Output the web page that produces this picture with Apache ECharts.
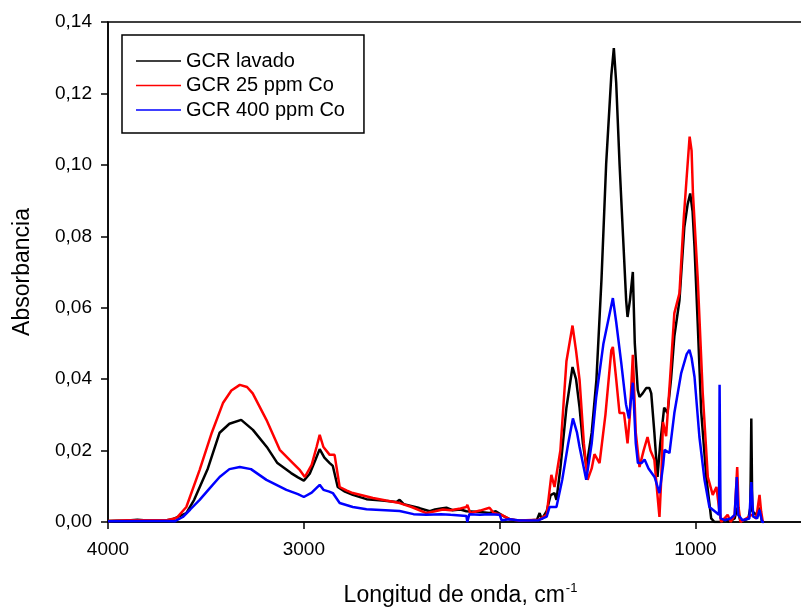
<!DOCTYPE html>
<html>
<head>
<meta charset="utf-8">
<script src="https://cdn.jsdelivr.net/npm/echarts@6/dist/echarts.min.js"></script>
<style>
  html, body { margin: 0; padding: 0; background: #fff; }
  #chart { width: 801px; height: 607px; }
</style>
</head>
<body>
<div id="chart"></div>
<script>
// FTIR spectra: [wavenumber (cm-1), absorbance]
const lavado = [
  [4000,0.0003],[3900,0.0004],[3850,0.0006],[3800,0.0004],[3700,0.0005],[3669,0.0008],[3640,0.0015],
  [3600,0.0025],[3560,0.0062],[3490,0.015],[3430,0.025],[3380,0.0275],[3320,0.0286],[3260,0.0258],
  [3185,0.0207],[3135,0.0165],[3065,0.0137],[3030,0.0125],[3000,0.0116],[2970,0.0135],[2940,0.0175],
  [2919,0.0204],[2895,0.018],[2868,0.0165],[2852,0.0157],[2827,0.0098],[2790,0.0085],[2750,0.0076],
  [2680,0.0064],[2600,0.006],[2527,0.0056],[2511,0.0062],[2490,0.005],[2410,0.0039],[2357,0.003],
  [2330,0.0035],[2300,0.0038],[2272,0.004],[2240,0.0033],[2200,0.0035],[2170,0.003],[2100,0.0028],
  [2052,0.0025],[2020,0.003],[1985,0.0018],[1950,0.0008],[1914,0.0004],[1850,0.0004],[1810,0.0006],
  [1796,0.0025],[1785,0.0008],[1760,0.003],[1740,0.0075],[1720,0.0081],[1710,0.0062],[1690,0.015],
  [1659,0.032],[1628,0.0434],[1610,0.04],[1592,0.032],[1575,0.022],[1557,0.0154],[1530,0.025],
  [1506,0.0398],[1480,0.068],[1456,0.1005],[1430,0.125],[1417,0.1327],[1405,0.123],[1388,0.1005],
  [1370,0.08],[1354,0.062],[1347,0.0574],[1335,0.062],[1320,0.070],[1310,0.05],[1295,0.037],
  [1286,0.035],[1270,0.036],[1252,0.0375],[1235,0.0375],[1226,0.036],[1210,0.025],[1194,0.0126],
  [1180,0.022],[1160,0.032],[1143,0.0305],[1125,0.04],[1108,0.052],[1082,0.062],[1057,0.0826],
  [1040,0.089],[1027,0.092],[1015,0.087],[1005,0.077],[988,0.0546],[971,0.031],[945,0.0126],
  [920,0.001],[903,0],[870,0],[850,0.001],[830,0],[800,0.001],[787,0.004],[770,0],[730,0.001],
  [720,0.004],[715,0.029],[710,0.003],[690,0.002],[673,0.004],[660,0],[650,0]
];

const co25 = [
  [4000,0.0003],[3900,0.0005],[3800,0.0005],[3700,0.0005],[3650,0.0011],[3600,0.0042],[3532,0.0146],
  [3470,0.025],[3413,0.0333],[3370,0.0368],[3327,0.0384],[3290,0.0378],[3261,0.036],[3191,0.0286],
  [3123,0.0202],[3056,0.0165],[3020,0.0145],[2995,0.0126],[2960,0.016],[2935,0.021],[2919,0.0244],
  [2900,0.021],[2868,0.0188],[2843,0.0188],[2817,0.0098],[2780,0.0088],[2750,0.0081],[2647,0.0067],
  [2580,0.006],[2511,0.0053],[2450,0.0042],[2374,0.0025],[2330,0.003],[2290,0.0035],[2250,0.0033],
  [2200,0.0038],[2170,0.0042],[2165,0.0048],[2150,0.0025],[2100,0.0032],[2052,0.004],[2030,0.0025],
  [1990,0.002],[1950,0.0008],[1900,0.0004],[1800,0.0006],[1760,0.002],[1745,0.009],[1736,0.0132],
  [1720,0.0098],[1690,0.02],[1659,0.045],[1628,0.055],[1610,0.048],[1592,0.0398],[1570,0.022],
  [1551,0.0118],[1530,0.015],[1516,0.019],[1490,0.0165],[1460,0.03],[1430,0.048],[1422,0.049],
  [1405,0.04],[1388,0.0305],[1365,0.0305],[1347,0.022],[1335,0.03],[1320,0.0468],[1305,0.025],
  [1286,0.0154],[1265,0.02],[1245,0.0238],[1230,0.02],[1210,0.0174],[1195,0.008],[1184,0.0014],
  [1175,0.012],[1166,0.028],[1150,0.024],[1130,0.04],[1108,0.0585],[1082,0.064],[1060,0.085],
  [1045,0.0966],[1030,0.1079],[1020,0.104],[1013,0.092],[989,0.0686],[963,0.036],[937,0.0126],
  [912,0.0076],[893,0.0098],[880,0.004],[869,0],[836,0.002],[820,0],[800,0.002],[787,0.0154],
  [780,0.004],[770,0],[740,0.001],[715,0.002],[690,0.001],[673,0.0076],[665,0.003],[656,0],[650,0]
];

const co400 = [
  [4000,0.0002],[3800,0.0003],[3700,0.0003],[3660,0.0002],[3618,0.0014],[3580,0.0035],[3532,0.0062],
  [3480,0.0095],[3430,0.0126],[3380,0.0148],[3327,0.0154],[3270,0.0148],[3191,0.0118],[3089,0.009],
  [3030,0.0078],[3000,0.007],[2960,0.0082],[2919,0.0104],[2900,0.009],[2870,0.0085],[2852,0.0081],
  [2817,0.0053],[2750,0.0042],[2680,0.0036],[2511,0.0031],[2440,0.0022],[2374,0.002],[2300,0.0022],
  [2250,0.002],[2170,0.0017],[2165,0],[2155,0.0022],[2100,0.002],[2052,0.0022],[2000,0.002],
  [1990,0.0005],[1950,0.0008],[1900,0.0004],[1800,0.0005],[1760,0.0015],[1745,0.0042],[1710,0.0042],
  [1680,0.012],[1650,0.022],[1626,0.029],[1605,0.025],[1592,0.021],[1558,0.0118],[1530,0.022],
  [1507,0.035],[1470,0.05],[1422,0.0627],[1405,0.056],[1379,0.0445],[1355,0.033],[1340,0.029],
  [1320,0.039],[1305,0.022],[1294,0.0165],[1275,0.0165],[1260,0.0175],[1240,0.015],[1209,0.0126],
  [1184,0.0081],[1165,0.016],[1158,0.0202],[1133,0.0193],[1108,0.0305],[1073,0.0417],[1045,0.047],
  [1031,0.0482],[1020,0.046],[1005,0.0406],[980,0.0238],[954,0.0118],[929,0.0042],[891,0.0025],
  [880,0.002],[877,0.0384],[872,0.001],[850,0.0005],[820,0.001],[800,0.002],[789,0.0126],[782,0.002],
  [760,0.0005],[725,0.001],[715,0.0112],[705,0.0015],[685,0.001],[673,0.0034],[660,0],[650,0]
];

const seriesNames = ['GCR lavado', 'GCR 25 ppm Co', 'GCR 400 ppm Co'];
const seriesColors = ['#000000', '#ff0000', '#0000ff'];
const xTickValues = [4000, 3000, 2000, 1000];

const font = 'Liberation Sans, Arial, sans-serif';
const chart = echarts.init(document.getElementById('chart'));

chart.setOption({
  animation: false,
  backgroundColor: '#ffffff',
  grid: {
    left: 108, top: 22, right: -12, bottom: 85,
    containLabel: false,
    outerBoundsMode: 'none',
    show: true, borderColor: '#000', borderWidth: 1.5
  },
  legend: {
    orient: 'vertical',
    left: 122, top: 35,
    padding: [16, 19, 13, 14],
    itemGap: 4.5,
    itemWidth: 45,
    itemHeight: 1.5,
    itemTextGap: 12,
    icon: 'rect',
    borderColor: '#000', borderWidth: 1.5,
    backgroundColor: '#fff',
    textStyle: { fontFamily: font, fontSize: 20, color: '#000', lineHeight: 19 },
    data: seriesNames
  },
  xAxis: {
    type: 'value',
    inverse: true,
    min: 400, max: 4000,
    name: 'Longitud de onda, {sup|cm}{s|-1}',
    nameLocation: 'middle',
    nameGap: 60,
    nameTextStyle: {
      fontFamily: font, fontSize: 23, color: '#000',
      rich: {
        sup: { fontFamily: font, fontSize: 23, color: '#000' },
        s: { fontFamily: font, fontSize: 13, color: '#000', verticalAlign: 'top', padding: [0, 0, 14, 1] }
      }
    },
    axisLine: { show: true, lineStyle: { color: '#000', width: 1.5 } },
    axisTick: { show: true, inside: false, length: 7, customValues: xTickValues, lineStyle: { color: '#000', width: 1.5 } },
    axisLabel: {
      customValues: xTickValues, margin: 18, fontFamily: font, fontSize: 19, color: '#000',
      formatter: v => String(v)
    },
    splitLine: { show: false }
  },
  yAxis: {
    type: 'value',
    min: 0, max: 0.14, interval: 0.02,
    name: 'Absorbancia',
    nameLocation: 'middle',
    nameGap: 74,
    nameTextStyle: { fontFamily: font, fontSize: 23, color: '#000' },
    axisLine: { show: true, lineStyle: { color: '#000', width: 1.5 } },
    axisTick: { show: true, inside: false, length: 7, lineStyle: { color: '#000', width: 1.5 } },
    axisLabel: {
      margin: 16, fontFamily: font, fontSize: 19, color: '#000',
      formatter: v => v.toFixed(2).replace('.', ',')
    },
    splitLine: { show: false }
  },
  series: [lavado, co25, co400].map((d, i) => ({
    name: seriesNames[i],
    type: 'line',
    data: d,
    symbol: 'none',
    smooth: false,
    clip: true,
    lineStyle: { color: seriesColors[i], width: 2.5 },
    itemStyle: { color: seriesColors[i] }
  }))
});
</script>
</body>
</html>
